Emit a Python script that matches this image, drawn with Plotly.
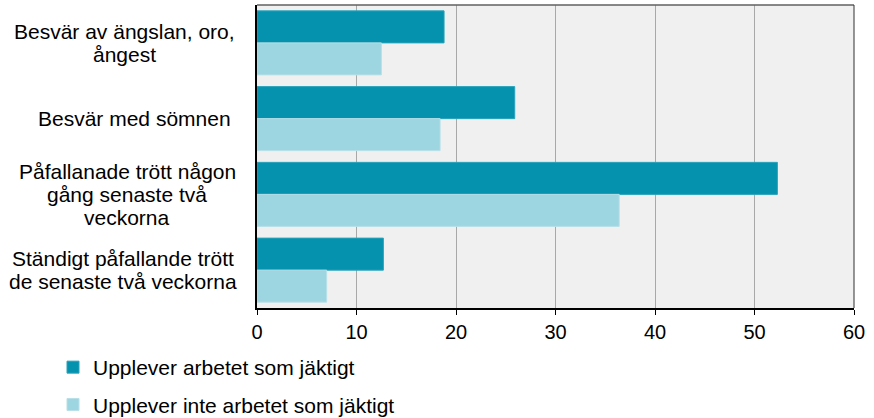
import plotly.graph_objects as go

# Categories (symptoms) and shares in percent for the two groups
categories = [
    "Besvär av ängslan, oro,<br>ångest",
    "Besvär med sömnen",
    "Påfallanade trött någon<br>gång senaste två<br>veckorna",
    "Ständigt påfallande trött<br>de senaste två veckorna",
]
hectic_work = [18.8, 25.9, 52.3, 12.7]
not_hectic_work = [12.5, 18.4, 36.4, 7.0]
series_names = ["Upplever arbetet som jäktigt", "Upplever inte arbetet som jäktigt"]
x_ticks = [0, 10, 20, 30, 40, 50, 60]

dark = "#0492AE"
light = "#9DD5E0"
font = "Liberation Sans, Arial, sans-serif"

# Horizontal centre of each label block, in px left of the value axis
label_centre_offset = [133, 123, 130, 134]
line_height = 23

fig = go.Figure()
fig.add_trace(go.Bar(
    y=list(range(len(categories))), x=hectic_work, orientation="h",
    name=series_names[0], legendgroup="a",
    marker=dict(color=dark, line=dict(color="#2AA3BB", width=1)),
))
fig.add_trace(go.Bar(
    y=list(range(len(categories))), x=not_hectic_work, orientation="h",
    name=series_names[1], legendgroup="b",
    marker=dict(color=light, line=dict(color="#B8E0E8", width=1)),
))

# Category labels: each line centred, with tight line spacing
for i, label in enumerate(categories):
    lines = label.split("<br>")
    n = len(lines)
    for j, line in enumerate(lines):
        fig.add_annotation(
            x=0, xref="paper", xshift=-label_centre_offset[i], xanchor="center",
            y=i, yref="y", yanchor="middle",
            yshift=-(j - (n - 1) / 2) * line_height,
            text=line, showarrow=False,
            font=dict(family=font, size=21, color="#000"),
        )

fig.update_layout(
    width=874, height=418,
    margin=dict(l=257, r=20, t=5, b=110, autoexpand=False),
    paper_bgcolor="white",
    plot_bgcolor="#F0F0F0",
    barmode="group",
    bargap=0.155,
    bargroupgap=0,
    font=dict(family=font, size=21, color="#000"),
    showlegend=True,
    legend=dict(
        x=53 / 874, xanchor="left", xref="container",
        y=(418 - 347) / 418, yanchor="top", yref="container",
        orientation="v", traceorder="grouped", tracegroupgap=7,
        font=dict(family=font, size=21, color="#000"),
        bgcolor="rgba(0,0,0,0)",
    ),
    xaxis=dict(
        range=[0, 60], tickvals=x_ticks,
        showgrid=True, gridcolor="#A8A8A8", gridwidth=1,
        showline=True, linecolor="#000", linewidth=1.5,
        ticks="outside", ticklen=5, tickcolor="#000",
        tickfont=dict(family=font, size=20, color="#000"),
        zeroline=False, fixedrange=True,
    ),
    yaxis=dict(
        range=[3.5, -0.5], showticklabels=False,
        showgrid=False, zeroline=False,
        showline=True, linecolor="#000", linewidth=1.5,
        ticks="", fixedrange=True,
    ),
)

# Top and right frame of the plot area
fig.add_shape(type="line", xref="paper", yref="paper", x0=0, x1=1, y0=1, y1=1,
              line=dict(color="#606060", width=1.5))
fig.add_shape(type="line", xref="paper", yref="paper", x0=1, x1=1, y0=0, y1=1,
              line=dict(color="#303030", width=1))

fig.write_html("out.html")
